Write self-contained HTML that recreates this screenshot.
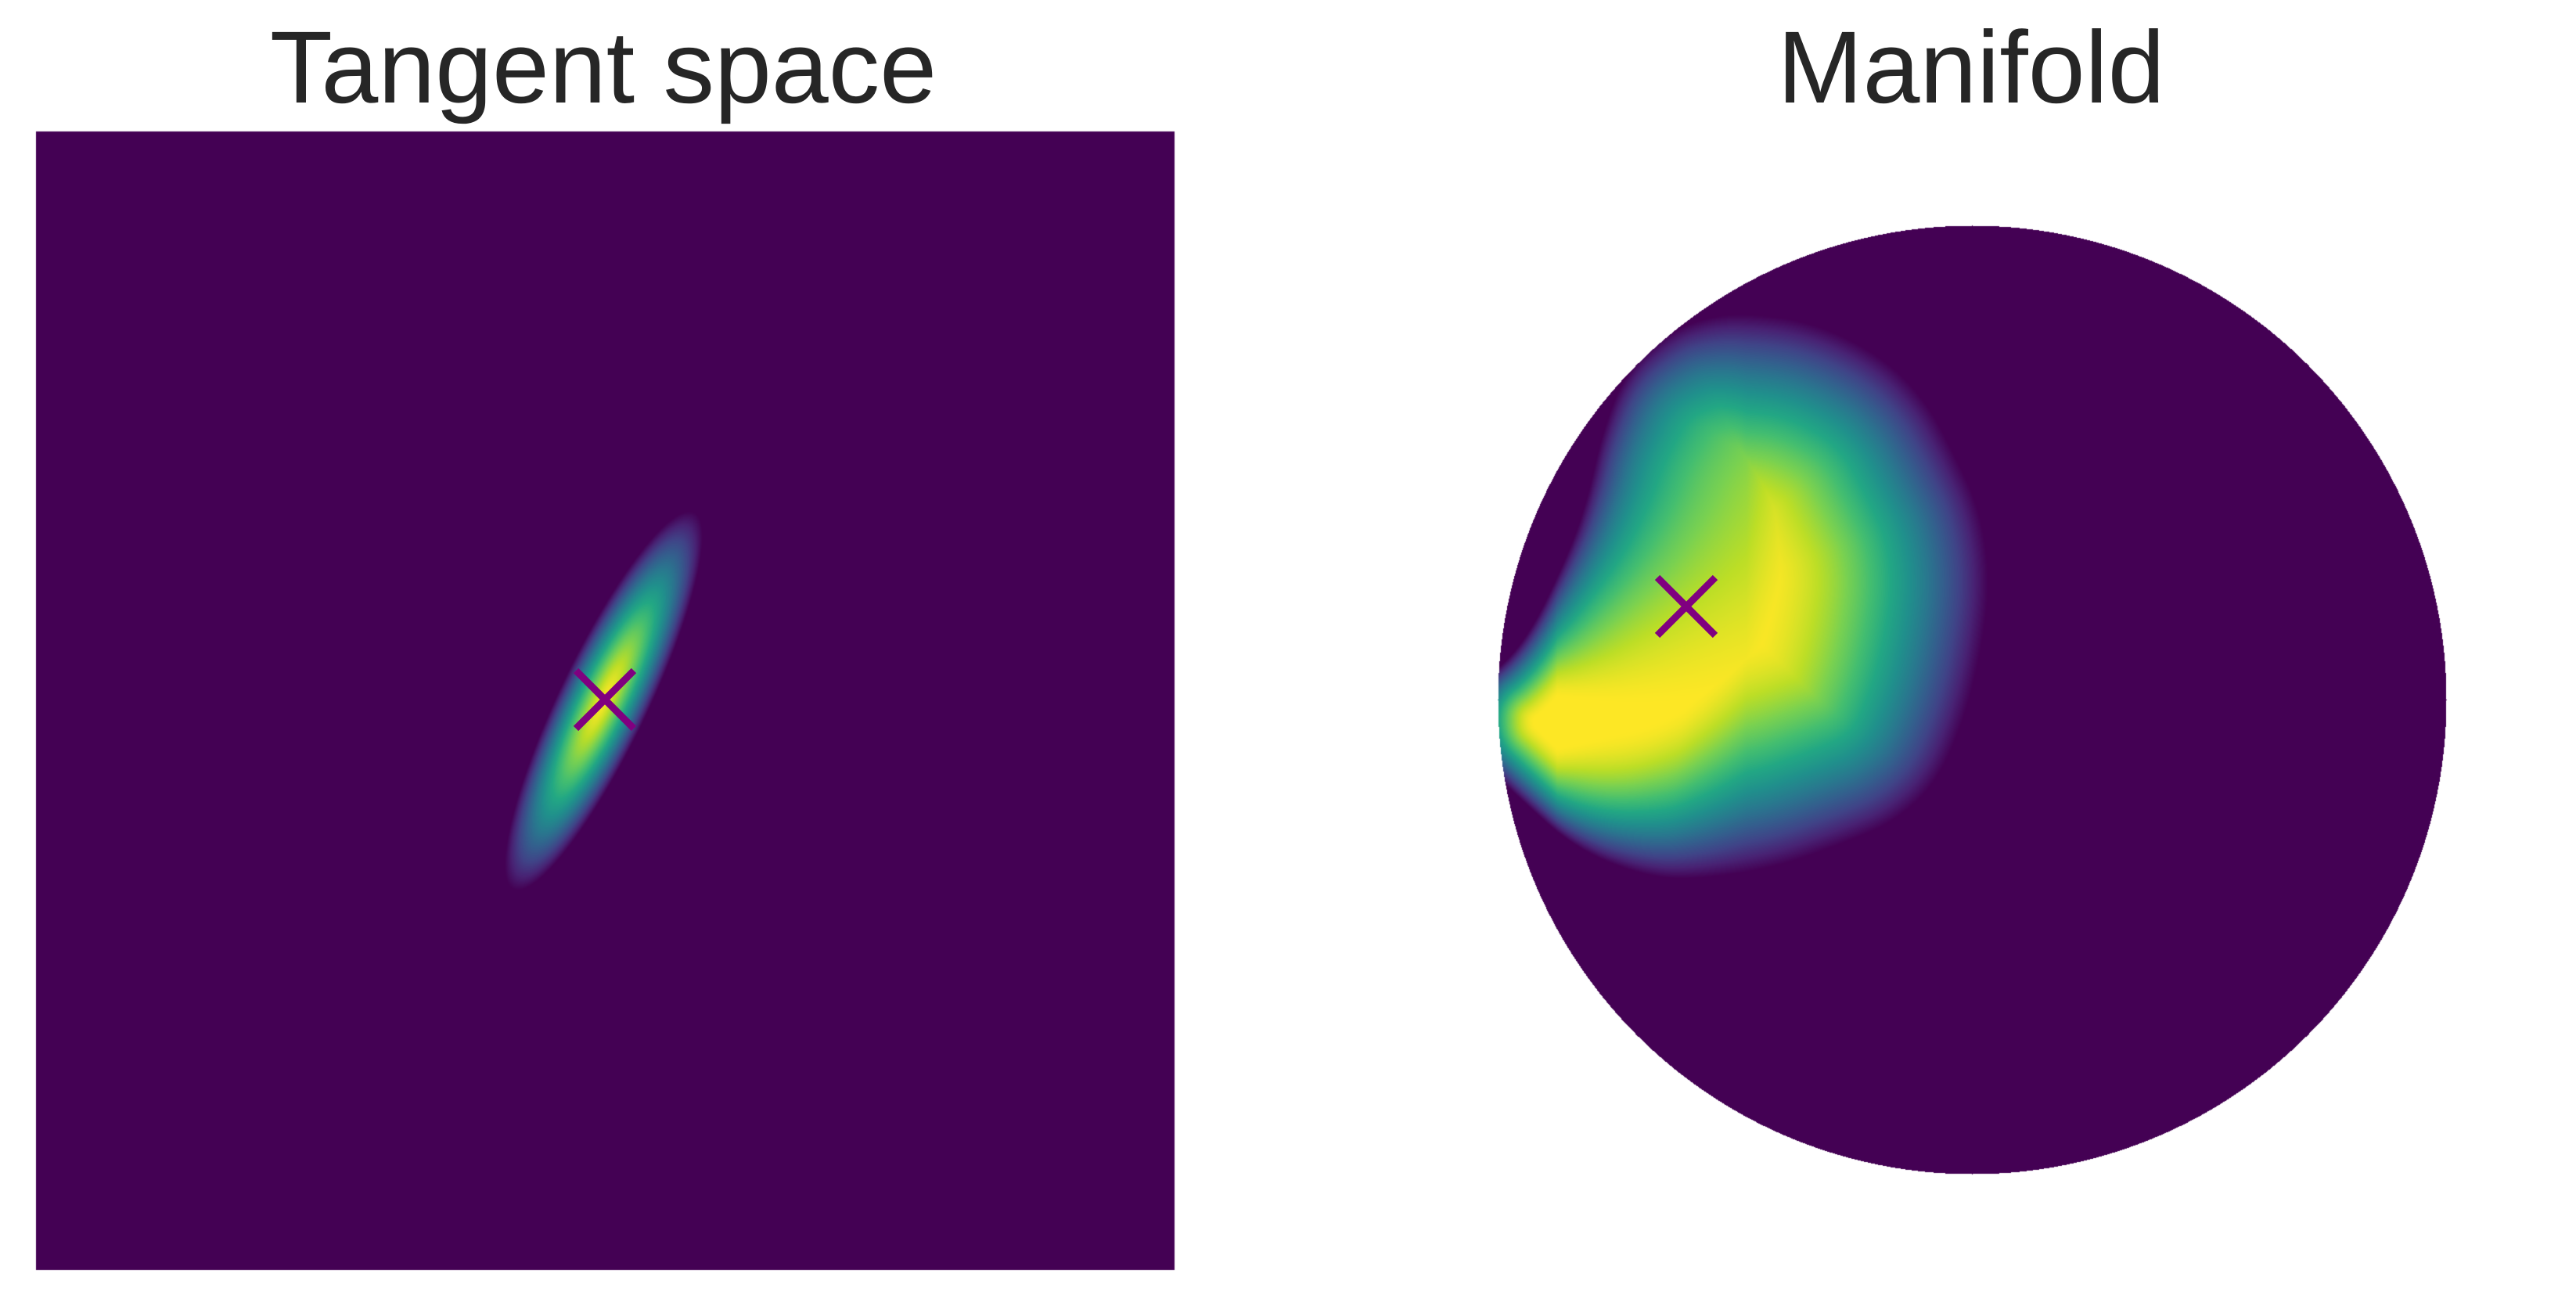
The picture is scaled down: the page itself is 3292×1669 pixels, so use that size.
<!DOCTYPE html>
<html><head><meta charset="utf-8">
<style>
html,body{margin:0;padding:0;background:#fff;}
#wrap{position:relative;width:3292px;height:1669px;overflow:hidden;}
canvas{position:absolute;left:0;top:0;}
.title{position:absolute;top:0;font-family:"Liberation Sans",Arial,sans-serif;font-size:131px;color:#262626;line-height:1;white-space:nowrap;transform:translateX(-50%);}
</style></head>
<body>
<div id="wrap">
<canvas id="cv" width="3292" height="1669"></canvas>
<div class="title" style="left:771px;top:20px;">Tangent space</div>
<div class="title" style="left:2519px;top:20px;">Manifold</div>
</div>
<script>
// Tangent-space Gaussian (pixel-space ellipse parameters)
const tangentMean = [771, 895];
const tangentAxes = [267, 57];
const tangentTiltDeg = [25.6];
// Manifold density outline of support
const manifoldOutlineX = [2231,2320,2405,2460,2497,2530,2543,2533,2510,2474,2420,2359,2270,2175,2107,2015,1937,1880,1880,1946,2006,2030,2045,2074,2130,2180];
const manifoldOutlineY = [399,412,455,510,579,650,738,827,920,1001,1050,1076,1108,1123,1121,1086,1016,960,880,827,703,630,560,479,425,405];
const markerTangent = [773, 894];
const markerManifold = [2155, 775];
const sphere = [2520, 894, 606];
const tangentBox = [46, 168, 1501, 1623];

const VIR = [[68,1,84],[72,35,116],[64,67,135],[52,94,141],[41,120,142],[32,144,140],[34,167,132],[68,190,112],[121,209,81],[189,222,38],[253,231,37]];
function vir(t){t=Math.max(0,Math.min(1,t));const f=t*(VIR.length-1);const i=Math.min(VIR.length-2,Math.floor(f));const g=f-i;const a=VIR[i],b=VIR[i+1];return [a[0]+(b[0]-a[0])*g,a[1]+(b[1]-a[1])*g,a[2]+(b[2]-a[2])*g];}

const cv=document.getElementById('cv');const ctx=cv.getContext('2d');
const W=cv.width,H=cv.height;
const img=ctx.createImageData(W,H);const d=img.data;
for(let i=0;i<d.length;i+=4){d[i]=255;d[i+1]=255;d[i+2]=255;d[i+3]=255;}
function put(x,y,c){const o=(y*W+x)*4;d[o]=c[0];d[o+1]=c[1];d[o+2]=c[2];}
// tangent panel
const th=tangentTiltDeg[0]*Math.PI/180;
const ax=[Math.sin(th),-Math.cos(th)], bx=[Math.cos(th),Math.sin(th)];
for(let y=tangentBox[1];y<tangentBox[3];y++)for(let x=tangentBox[0];x<tangentBox[2];x++){
 const dx=x-tangentMean[0],dy=y-tangentMean[1];
 const u=(dx*ax[0]+dy*ax[1])/tangentAxes[0],v=(dx*bx[0]+dy*bx[1])/tangentAxes[1];
 const r=Math.sqrt(u*u+v*v);
 put(x,y,vir(r>=1?0:1-Math.pow(r,1.4)));
}
// smooth outline (Chaikin)
let P=manifoldOutlineX.map((px,i)=>[px,manifoldOutlineY[i]]);
for(let k=0;k<3;k++){const Q=[];for(let i=0;i<P.length;i++){const a=P[i],b=P[(i+1)%P.length];Q.push([0.75*a[0]+0.25*b[0],0.75*a[1]+0.25*b[1]]);Q.push([0.25*a[0]+0.75*b[0],0.25*a[1]+0.75*b[1]]);}P=Q;}
const n=P.length;
function inside(x,y){let c=false;for(let i=0,j=n-1;i<n;j=i++){const a=P[i],b=P[j];if(((a[1]>y)!=(b[1]>y))&&(x<(b[0]-a[0])*(y-a[1])/(b[1]-a[1])+a[0]))c=!c;}return c;}
function segDist(x,y){let m=1e9;for(let i=0,j=n-1;i<n;j=i++){const a=P[j],b=P[i];const vx=b[0]-a[0],vy=b[1]-a[1];let t=((x-a[0])*vx+(y-a[1])*vy)/(vx*vx+vy*vy);t=Math.max(0,Math.min(1,t));const ex=a[0]+t*vx-x,ey=a[1]+t*vy-y;const dd=ex*ex+ey*ey;if(dd<m)m=dd;}return Math.sqrt(m);}
const [cx,cy,R]=sphere;
for(let y=cy-R-2;y<=cy+R+2;y++)for(let x=cx-R-2;x<=cx+R+2;x++){
 const dx=x-cx,dy=y-cy;if(dx*dx+dy*dy>R*R)continue;
 let t=0;
 if(x>1860&&x<2560&&y>390&&y<1130&&inside(x,y)){
  const dist=segDist(x,y);
  const D=Math.max(80,Math.min(285,80+0.85*(x-1990)));
  const s=Math.min(1,dist/D);
  t=1-Math.pow(1-s,1.6);
 }
 put(x,y,vir(t));
}
ctx.putImageData(img,0,0);
</script>
<svg width="3292" height="1669" style="position:absolute;left:0;top:0;">
<g stroke="#800080" stroke-width="9">
<line x1="736" y1="857" x2="810" y2="931"/><line x1="810" y1="857" x2="736" y2="931"/></g>
<g stroke="#800080" stroke-width="9">
<line x1="2118" y1="738" x2="2192" y2="812"/><line x1="2192" y1="738" x2="2118" y2="812"/></g>
</svg>
</body></html>
